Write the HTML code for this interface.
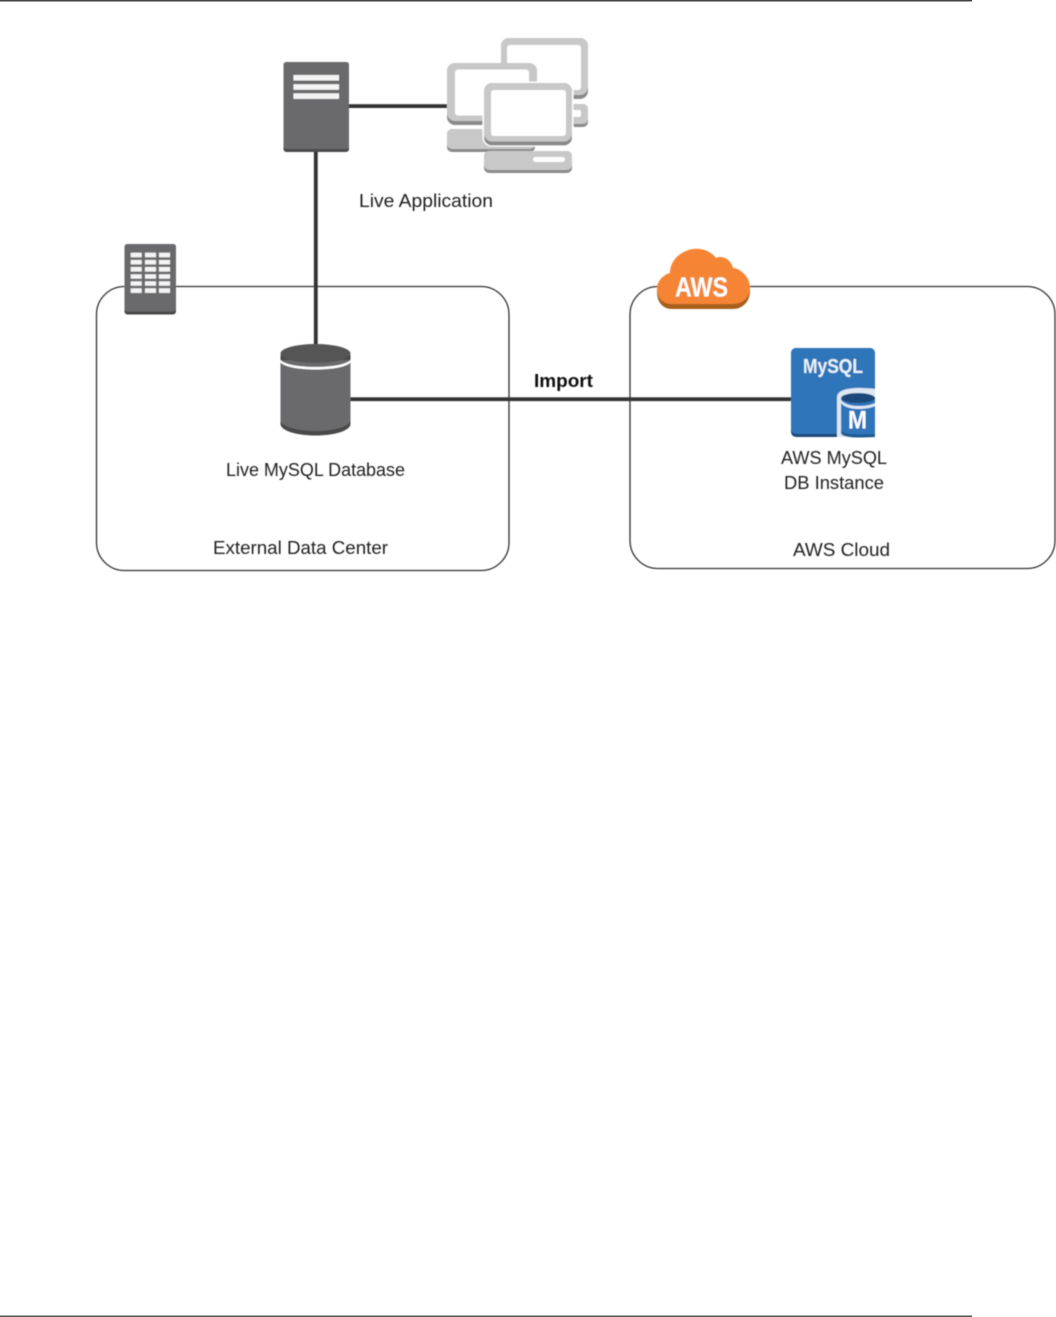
<!DOCTYPE html>
<html>
<head>
<meta charset="utf-8">
<title>Import to AWS MySQL</title>
<style>
html,body{margin:0;padding:0;background:#fff;width:1056px;height:1317px;overflow:hidden}
svg{display:block}
text{font-family:"Liberation Sans",sans-serif;font-size:18px;fill:#222}
</style>
</head>
<body>
<svg width="1056" height="1317" viewBox="0 0 1056 1317" xmlns="http://www.w3.org/2000/svg">
<defs><filter id="b" x="-5%" y="-5%" width="110%" height="110%"><feGaussianBlur stdDeviation="0.5"/></filter></defs>
<rect x="0" y="0" width="972" height="1.5" fill="#444"/>
<rect x="0" y="1315.5" width="972" height="1.5" fill="#555"/>
<g filter="url(#b)">
<!-- containers -->
<rect x="96.5" y="286.5" width="412.500" height="284" rx="28" fill="none" stroke="#333" stroke-width="1.3"/>
<rect x="630" y="286.5" width="425" height="282" rx="28" fill="none" stroke="#333" stroke-width="1.3"/>
<!-- connectors -->
<rect x="313.900" y="150" width="3.800" height="196" fill="#333"/>
<rect x="347" y="104.200" width="103" height="3.800" fill="#333"/>
<rect x="349" y="397.300" width="444" height="3.800" fill="#333"/>
<!-- server -->
<rect x="283.500" y="62" width="65.500" height="90" rx="3" fill="#4a4a4c"/>
<rect x="283.500" y="62" width="65.500" height="87" rx="3" fill="#6b6b6d"/>
<rect x="293.500" y="75" width="45.500" height="5.500" fill="#f4f4f4"/>
<rect x="293.500" y="84.200" width="45.500" height="5.600" fill="#f4f4f4"/>
<rect x="293.500" y="93.300" width="45.500" height="5.600" fill="#f4f4f4"/>
<!-- back computer -->
<rect x="570" y="104" width="18" height="23" rx="5" fill="#8a8a8a"/>
<rect x="570" y="104" width="18" height="20" rx="5" fill="#c8c8c8"/>
<rect x="571" y="110" width="10" height="7" rx="2" fill="#fff"/>
<rect x="501" y="38" width="87" height="61" rx="8" fill="#8a8a8a"/>
<rect x="501" y="38" width="87" height="57" rx="8" fill="#c8c8c8"/>
<rect x="507" y="45" width="74" height="45" rx="3" fill="#fff"/>
<!-- left computer -->
<rect x="447" y="129" width="88" height="23" rx="5" fill="#8a8a8a"/>
<rect x="447" y="129" width="88" height="20" rx="5" fill="#c8c8c8"/>
<rect x="447" y="63" width="90" height="62" rx="8" fill="#8a8a8a"/>
<rect x="447" y="63" width="90" height="58" rx="8" fill="#c8c8c8"/>
<rect x="455" y="69.500" width="74" height="46" rx="3" fill="#fff"/>
<!-- front computer -->
<rect x="484" y="151" width="88" height="22" rx="5" fill="#8a8a8a"/>
<rect x="484" y="151" width="88" height="19" rx="5" fill="#c8c8c8"/>
<rect x="533" y="157" width="32" height="5" rx="2.500" fill="#fff"/>
<rect x="482.500" y="81.500" width="91" height="65" rx="9" fill="#fff"/>
<rect x="484" y="83" width="88" height="62.500" rx="8" fill="#8a8a8a"/>
<rect x="484" y="83" width="88" height="58.500" rx="8" fill="#c8c8c8"/>
<rect x="491" y="90" width="75" height="46" rx="3" fill="#fff"/>
<!-- building -->
<rect x="124.500" y="244" width="51.500" height="70.500" rx="3" fill="#4a4a4c"/>
<rect x="124.500" y="244" width="51.500" height="67.500" rx="3" fill="#6b6b6d"/>
<g fill="#f4f4f4">
<rect x="130.700" y="252.700" width="11" height="4.600"/><rect x="145" y="252.700" width="11" height="4.600"/><rect x="159" y="252.700" width="11" height="4.600"/>
<rect x="130.700" y="260" width="11" height="4.400"/><rect x="145" y="260" width="11" height="4.400"/><rect x="159" y="260" width="11" height="4.400"/>
<rect x="130.700" y="267" width="11" height="4.600"/><rect x="145" y="267" width="11" height="4.600"/><rect x="159" y="267" width="11" height="4.600"/>
<rect x="130.700" y="274.300" width="11" height="4.400"/><rect x="145" y="274.300" width="11" height="4.400"/><rect x="159" y="274.300" width="11" height="4.400"/>
<rect x="130.700" y="281.300" width="11" height="4.400"/><rect x="145" y="281.300" width="11" height="4.400"/><rect x="159" y="281.300" width="11" height="4.400"/>
<rect x="130.700" y="288.300" width="11" height="4.600"/><rect x="145" y="288.300" width="11" height="4.600"/><rect x="159" y="288.300" width="11" height="4.600"/>
</g>
<!-- database -->
<path d="M280.500 355V424C280.500 430.500 296 435.500 315.500 435.500S350.500 430.500 350.500 424V355Z" fill="#48484a"/>
<path d="M280.500 360V420C280.500 426 296 431 315.500 431S350.500 426 350.500 420V360Z" fill="#6b6b6d"/>
<path d="M280.500 360C285 364.500 299 367 315.500 367S346 364.500 350.500 360V362.500C346 367 332 369.500 315.500 369.500S285 367 280.500 362.500Z" fill="#fff"/>
<ellipse cx="315.500" cy="353.500" rx="35" ry="9.500" fill="#555557"/>
<!-- AWS cloud -->
<path d="M672 309C662 309 657 301 657 292C657 282 663 276 670 274C670 263 678 255 686 252C695 247 708 248 716 258C723 255 731 260 733 268C742 269 750 279 750 291C750 301 743 309 733 309Z" fill="#a85f1c"/>
<path d="M672 304C662 304 657 297 657 289C657 281 663 275 670 273C670 262 678 254 686 251C695 247 708 248 716 258C723 255 731 260 733 268C742 269 750 278 750 288C750 297 743 304 733 304Z" fill="#f58536"/>
<text x="675" y="296.500" textLength="53" lengthAdjust="spacingAndGlyphs" style="font-size:27.500px;font-weight:bold;fill:#fff">AWS</text>
<!-- MySQL -->
<rect x="791" y="348" width="84" height="89" rx="5" fill="#1a4a7c"/>
<rect x="791" y="348" width="84" height="86" rx="5" fill="#2f74b9"/>
<text x="803" y="373" textLength="60" lengthAdjust="spacingAndGlyphs" style="font-size:20px;font-weight:bold;fill:#e8f1f8">MySQL</text>
<path d="M837 437V397C837 391 846 388 858 388S875 389 875 389V437Z" fill="#dce8f3"/>
<path d="M841 398V433C841 436 849 437.500 858 437.500S875 437 875 437V398Z" fill="#1f5a94"/>
<path d="M841 398V430C841 433 849 434.500 858 434.500S875 434 875 434V398Z" fill="#2f74b9"/>
<path d="M841 400C844 404 851 406 858 406S871 405 875 403V406C871 408 864 409 858 409C851 409 844 407 841 403Z" fill="#dce8f3"/>
<ellipse cx="858" cy="398" rx="17" ry="5" fill="#1a4a7c"/>
<text x="848" y="428.500" textLength="19" lengthAdjust="spacingAndGlyphs" style="font-size:25px;font-weight:bold;fill:#fff">M</text>
<!-- labels -->
<text x="359" y="207" textLength="134" lengthAdjust="spacingAndGlyphs">Live Application</text>
<text x="226" y="476" textLength="179" lengthAdjust="spacingAndGlyphs">Live MySQL Database</text>
<text x="213" y="554" textLength="175" lengthAdjust="spacingAndGlyphs">External Data Center</text>
<text x="534" y="387" textLength="59" lengthAdjust="spacingAndGlyphs" style="font-weight:bold;fill:#111">Import</text>
<text x="781" y="464" textLength="106" lengthAdjust="spacingAndGlyphs">AWS MySQL</text>
<text x="784" y="489" textLength="100" lengthAdjust="spacingAndGlyphs">DB Instance</text>
<text x="793" y="556" textLength="97" lengthAdjust="spacingAndGlyphs">AWS Cloud</text>
</g>
</svg>
</body>
</html>
